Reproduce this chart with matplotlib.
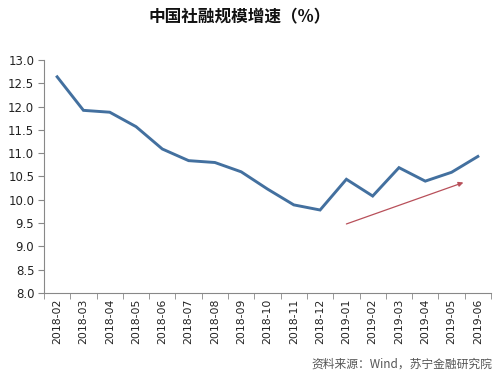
import matplotlib.pyplot as plt
import numpy as np
from matplotlib.ticker import FormatStrFormatter, FixedLocator

plt.rcParams['font.family'] = ['DejaVu Sans', 'Noto Sans CJK SC']

months = ["2018-02", "2018-03", "2018-04", "2018-05", "2018-06", "2018-07",
          "2018-08", "2018-09", "2018-10", "2018-11", "2018-12", "2019-01",
          "2019-02", "2019-03", "2019-04", "2019-05", "2019-06"]
growth = [12.64, 11.92, 11.88, 11.57, 11.09, 10.84, 10.80, 10.60, 10.23,
          9.89, 9.78, 10.44, 10.08, 10.69, 10.40, 10.59, 10.93]

# trend arrow (category index, value)
arrow_start = (11.0, 9.48)
arrow_end = (15.45, 10.37)

fig = plt.figure(figsize=(5.0, 3.9), dpi=100)
ax = fig.add_axes([0.088, 0.249, 0.894, 0.597])

x = np.arange(len(months))
ax.plot(x, growth, color='#43709F', linewidth=2.1, solid_joinstyle='miter')

ax.annotate("", xy=arrow_end, xytext=arrow_start,
            arrowprops=dict(arrowstyle='-|>', color='#B8505A', lw=0.9,
                            mutation_scale=7, shrinkA=0, shrinkB=0))

ax.set_xlim(-0.5, len(months) - 0.5)
ax.set_ylim(8.0, 13.0)
ax.set_yticks(np.arange(8.0, 13.01, 0.5))
ax.yaxis.set_major_formatter(FormatStrFormatter('%.1f'))

ax.set_xticks(x)
ax.set_xticklabels(months, rotation=90, fontsize=7.8, color='#222222')
ax.xaxis.set_minor_locator(FixedLocator(np.arange(-0.5, len(months), 1.0)))
ax.tick_params(axis='x', which='major', length=0, pad=4)
ax.tick_params(axis='x', which='minor', length=4, color='#888888', direction='out')
ax.tick_params(axis='y', length=4, color='#888888', labelsize=8.5,
               labelcolor='#222222', pad=3)

for side in ['top', 'right']:
    ax.spines[side].set_visible(False)
for side in ['left', 'bottom']:
    ax.spines[side].set_color('#888888')
    ax.spines[side].set_linewidth(0.8)

fig.text(0.48, 0.955, "中国社融规模增速（%）", ha='center', va='center',
         fontsize=12, fontweight='bold', family=['Noto Sans CJK SC', 'DejaVu Sans'],
         color='#111111')
fig.text(0.985, 0.067, "资料来源：Wind，苏宁金融研究院", ha='right', va='center',
         fontsize=8.5, color='#555555', style='italic',
         family=['Noto Sans CJK SC', 'DejaVu Sans'])

fig.savefig("out.png", dpi=100)
